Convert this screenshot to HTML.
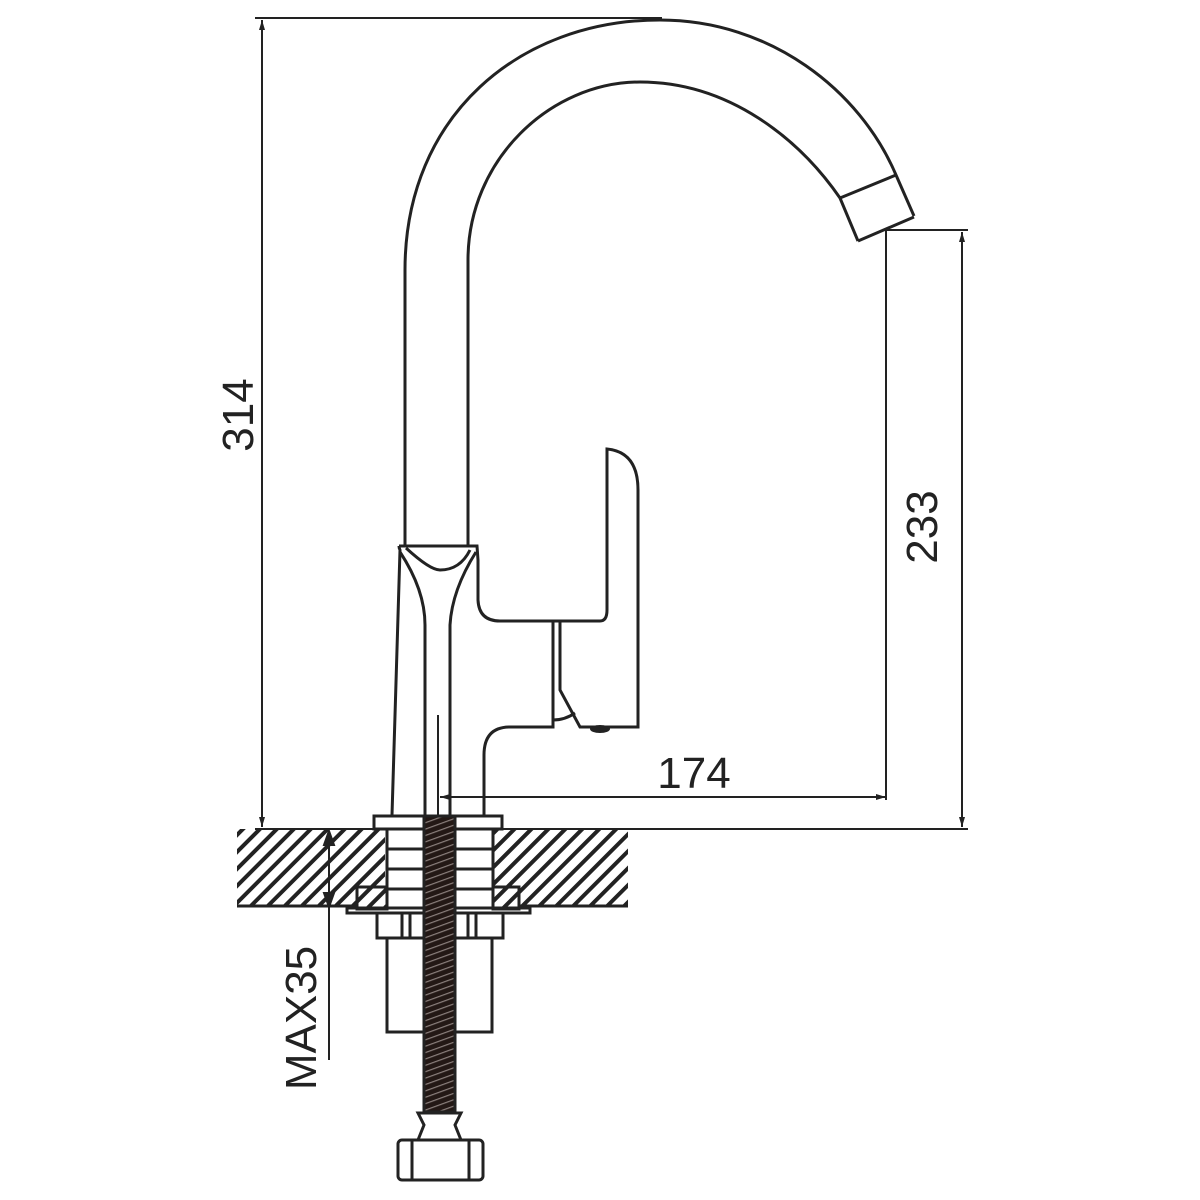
<!DOCTYPE html>
<html><head><meta charset="utf-8"><style>html,body{margin:0;padding:0;background:#fff}svg{display:block}</style></head><body>
<svg width="1200" height="1200" viewBox="0 0 1200 1200" xmlns="http://www.w3.org/2000/svg">
<defs>
<pattern id="h" patternUnits="userSpaceOnUse" width="12" height="12" patternTransform="rotate(45)">
<rect width="12" height="12" fill="#fff"/><rect x="0" y="0" width="4" height="12" fill="#222"/>
</pattern>
<pattern id="t" patternUnits="userSpaceOnUse" width="6" height="6" patternTransform="rotate(-20)">
<rect width="6" height="6" fill="#231815"/><rect x="0" y="0" width="6" height="1.2" fill="#8a7f7c"/>
</pattern>
<marker id="a" viewBox="0 0 10 10" refX="10" refY="5" markerWidth="10" markerHeight="10" orient="auto-start-reverse" markerUnits="userSpaceOnUse"><path d="M0,2 L10,5 L0,8 z" fill="#222"/></marker>
</defs>
<g fill="none" stroke="#222" stroke-width="3">
<!-- hatch counter -->
<rect x="237" y="829" width="148" height="77" fill="url(#h)" stroke="none"/>
<rect x="494" y="829" width="134" height="77" fill="url(#h)" stroke="none"/>
<line x1="237" y1="906" x2="385" y2="906"/>
<line x1="494" y1="906" x2="628" y2="906"/>
<line x1="255" y1="829" x2="968" y2="829" stroke-width="2"/>
<!-- spout -->
<path d="M405,545 L405,270 C405,115 520,20 660,20 C770,20 860,90 896,175 L914,216"/>
<path d="M468,545 L468,260 C468,160 550,82 640,82 C730,82 800,140 840,198 L858,241"/>
<path d="M840,198 L896,175 M858,241 L914,217"/>
<!-- body -->
<path d="M399,546 Q399,548 400,550 L392,815"/>
<path d="M399,546 L477,546 L478,560 L478,600 Q479,621 500,621 L600,621 Q607,621 607,610 L607,449 Q638,452 638,490 L638,727 L580,727 L560,690 L560,621"/>
<path d="M553,621 L553,727 L510,727 Q484,727 484,755 L484,815"/>
<path d="M406,548 Q430,570 440,570 Q460,570 470,550"/>
<path d="M400,552 Q425,590 425,625 L425,815"/>
<path d="M476,552 Q452,590 450,625 L450,815"/>
<path d="M553,720 Q565,720 575,713"/>
<ellipse cx="600" cy="729" rx="10" ry="4" fill="#222" stroke="none"/>
<!-- base -->
<rect x="374" y="816" width="128" height="13"/>
<line x1="387" y1="829" x2="387" y2="910"/><line x1="493" y1="829" x2="493" y2="910"/>
<line x1="387" y1="849" x2="493" y2="849"/><line x1="387" y1="869" x2="493" y2="869"/><line x1="387" y1="889" x2="493" y2="889"/>
<rect x="357" y="887" width="30" height="22" fill="url(#h)"/>
<rect x="493" y="887" width="26" height="22" fill="url(#h)"/>
<rect x="347" y="908" width="183" height="5"/>
<rect x="377" y="913" width="126" height="25"/>
<path d="M402,913 V938 M410,913 V938 M468,913 V938 M476,913 V938"/>
<rect x="387" y="938" width="105" height="94"/>
<rect x="424" y="816" width="31" height="296" fill="url(#t)"/>
<path d="M418,1113 L461,1113 L455,1125 L461,1140 L418,1140 L424,1125 Z" fill="#fff"/>
<rect x="398" y="1140" width="85" height="40" rx="4" fill="#fff"/>
<path d="M412,1141 V1179 M469,1141 V1179"/>
<!-- dims -->
<g stroke-width="2">
<line x1="255" y1="18" x2="662" y2="18"/>
<line x1="262" y1="20" x2="262" y2="827" marker-start="url(#a)" marker-end="url(#a)"/>
<line x1="886" y1="230" x2="968" y2="230"/>
<line x1="886" y1="230" x2="886" y2="800"/>
<line x1="962" y1="232" x2="962" y2="827" marker-start="url(#a)" marker-end="url(#a)"/>
<line x1="440" y1="797" x2="886" y2="797" marker-start="url(#a)" marker-end="url(#a)"/>
<line x1="438" y1="715" x2="438" y2="815"/>
<line x1="329" y1="831" x2="329" y2="1060" />
<path d="M324,845 L329,831 L334,845 Z M324,893 L329,907 L334,893 Z" fill="#222"/>
</g>
</g>
<g font-family="Liberation Sans, sans-serif" font-size="44" fill="#222">
<text x="694" y="788" text-anchor="middle">174</text>
<text transform="translate(253,415) rotate(-90)" text-anchor="middle">314</text>
<text transform="translate(937,527) rotate(-90)" text-anchor="middle">233</text>
<text transform="translate(316,1018) rotate(-90)" text-anchor="middle">MAX35</text>
</g>
</svg>
</body></html>
